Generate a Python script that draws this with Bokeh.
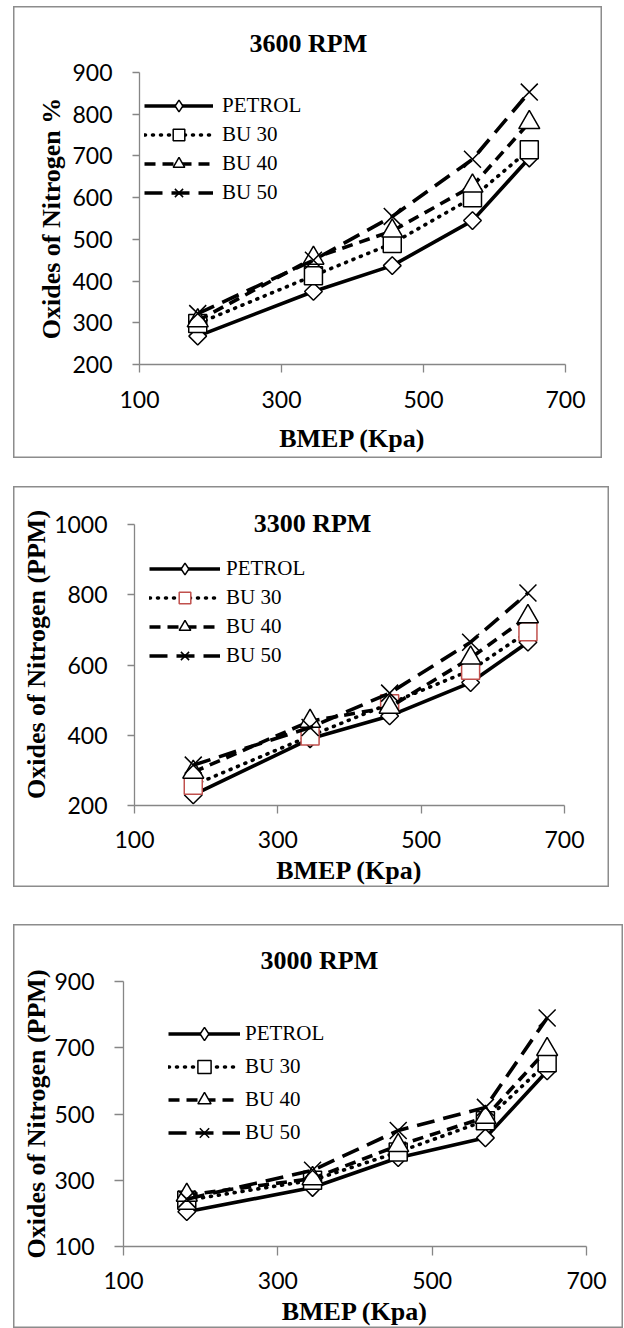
import math
from bokeh.plotting import figure
from bokeh.models import Range1d, FixedTicker, Legend, LegendItem, Title, Spacer, Label
from bokeh.layouts import column, row
from bokeh.embed import file_html
from bokeh.resources import INLINE

# ---------------- data ----------------
series_names = ["PETROL", "BU 30", "BU 40", "BU 50"]
bmep = [182, 345, 456, 569, 649]
x_ticks = [100, 300, 500, 700]

nox_3600_petrol = [268, 375, 437, 545, 695]
nox_3600_bu30 = [298, 413, 490, 600, 715]
nox_3600_bu40 = [305, 455, 520, 628, 780]
nox_3600_bu50 = [322, 450, 555, 692, 853]
y_ticks_3600 = [200, 300, 400, 500, 600, 700, 800, 900]

nox_3300_petrol = [230, 390, 455, 550, 665]
nox_3300_bu30 = [258, 398, 490, 585, 695]
nox_3300_bu40 = [295, 440, 480, 620, 738]
nox_3300_bu50 = [315, 422, 520, 665, 805]
y_ticks_3300 = [200, 400, 600, 800, 1000]

nox_3000_petrol = [205, 278, 368, 428, 630]
nox_3000_bu30 = [240, 300, 385, 480, 655]
nox_3000_bu40 = [255, 305, 405, 490, 695]
nox_3000_bu50 = [243, 330, 450, 520, 790]
y_ticks_3000 = [100, 300, 500, 700, 900]

titles = ["3600 RPM", "3300 RPM", "3000 RPM"]
y_labels = ["Oxides of Nitrogen %", "Oxides of Nitrogen (PPM)", "Oxides of Nitrogen (PPM)"]
x_label = "BMEP (Kpa)"

# ---------------- styles ----------------
SERIF = "Liberation Serif"
SANS = "Lato"
GRAY = "#868686"
line_styles = [
    dict(line_dash="solid", line_width=3.6, line_cap="butt"),
    dict(line_dash="1 7", line_width=3.6, line_cap="round"),
    dict(line_dash="11 7", line_width=3.6, line_cap="butt"),
    dict(line_dash="18 9", line_width=3.6, line_cap="butt"),
]
marker_styles = [
    dict(marker="square", angle=math.pi / 4, size=12.5),
    dict(marker="square", angle=0.0, size=18),
    dict(marker="triangle", angle=0.0, size=21),
    dict(marker="x", angle=0.0, size=24),
]


def make_chart(title, ylabel, series, yr, yticks, geo, marker_colors):
    y_end = geo.get("ytop", yr[1])
    p = figure(
        width=geo["w"], height=geo["h"],
        x_range=Range1d(100, 700), y_range=Range1d(yr[0], y_end),
        output_backend="svg", toolbar_location=None,
        min_border_left=geo["l"], min_border_right=geo["r"],
        min_border_top=geo["t"], min_border_bottom=geo["b"],
    )
    p.outline_line_color = None
    p.grid.visible = False
    p.background_fill_color = None
    p.border_fill_color = None

    for ax, ticks in ((p.xaxis[0], x_ticks), (p.yaxis[0], yticks)):
        ax.ticker = FixedTicker(ticks=ticks)
        ax.minor_tick_line_color = None
        ax.axis_line_color = GRAY
        ax.axis_line_width = 1.3
        ax.major_tick_line_color = GRAY
        ax.major_tick_line_width = 1.3
        ax.major_tick_in = 0
        ax.major_label_text_font = SANS
        ax.major_label_text_font_size = "23px"
        ax.major_label_text_color = "black"
        ax.axis_label_text_font = SERIF
        ax.axis_label_text_font_style = "bold"
        ax.axis_label_text_font_size = "26px"
        ax.axis_label_text_color = "black"
    p.yaxis.bounds = (yr[0], yr[1])
    p.xaxis.major_tick_out = geo["xt"]
    p.yaxis.major_tick_out = geo["yt"]
    p.xaxis.major_label_standoff = geo["xls"]
    p.yaxis.major_label_standoff = geo["yls"]
    p.xaxis.axis_label_standoff = geo["xas"]
    p.yaxis.axis_label_standoff = geo["yas"]
    p.xaxis.axis_label = x_label
    p.yaxis.axis_label = ylabel

    items = []
    for i, (name, ys) in enumerate(zip(series_names, series)):
        lr = p.line(bmep, ys, line_color="black", **line_styles[i])
        ms = marker_styles[i]
        sr = p.scatter(bmep, ys, marker=ms["marker"], angle=ms["angle"], size=ms["size"],
                       fill_color="white", line_color=marker_colors[i], line_width=1.5)
        rends = [lr, sr]
        if i == 0:
            # legend-only diamond glyph (its single point is NaN, so nothing is drawn)
            dr = p.scatter(x=[float("nan")], y=[float("nan")], marker="diamond", size=16,
                           fill_color="white", line_color=marker_colors[i], line_width=1.5)
            rends = [lr, dr]
        items.append(LegendItem(label=name, renderers=rends))

    leg = Legend(items=items, location=(geo["lx"], geo["ly"]),
                 glyph_width=geo["gw"], glyph_height=geo["gh"], spacing=0,
                 padding=0, margin=0, label_standoff=geo["ls"],
                 border_line_color=None, background_fill_alpha=0,
                 label_text_font=SERIF, label_text_font_size="21px",
                 label_text_color="black", label_height=geo["gh"])
    p.add_layout(leg)

    if geo.get("inside_title"):
        p.add_layout(Label(x=geo["tx"], y=geo["ty"], x_units="screen", y_units="screen",
                           text=title, text_align="center", text_baseline="middle",
                           text_font=SERIF, text_font_style="bold", text_font_size="26px",
                           text_color="black"))
    else:
        p.add_layout(Title(text=title, align="left", offset=geo["toff"], standoff=geo["tst"],
                           text_font=SERIF, text_font_style="bold", text_font_size="26px",
                           text_color="black"), "above")
    p.styles = {"box-shadow": "inset 0 0 0 1.5px #8c8c8c"}
    return p


geo1 = dict(w=589, h=452, l=126, r=37, t=66, b=94, xt=8, yt=7, xls=18, yls=20, xas=13, yas=3,
            lx=5, ly=157, gw=69, gh=29, ls=9, toff=110, tst=29)
geo2 = dict(w=596, h=401, l=121, r=45, t=17, b=82, xt=8, yt=7, xls=17, yls=20, xas=5, yas=0,
            lx=15, ly=135, gw=71, gh=29, ls=6, ytop=1060, inside_title=True, tx=178, ty=282)
geo3 = dict(w=610, h=404, l=110, r=37, t=57, b=82, xt=9, yt=9, xls=16, yls=20, xas=5, yas=0,
            lx=45, ly=97, gw=72, gh=33, ls=5, toff=137, tst=14)

black4 = ["black"] * 4
p1 = make_chart(titles[0], y_labels[0],
                [nox_3600_petrol, nox_3600_bu30, nox_3600_bu40, nox_3600_bu50],
                (200, 900), y_ticks_3600, geo1, black4)
p2 = make_chart(titles[1], y_labels[1],
                [nox_3300_petrol, nox_3300_bu30, nox_3300_bu40, nox_3300_bu50],
                (200, 1000), y_ticks_3300, geo2, ["black", "#c0504d", "black", "black"])
p3 = make_chart(titles[2], y_labels[2],
                [nox_3000_petrol, nox_3000_bu30, nox_3000_bu40, nox_3000_bu50],
                (100, 900), y_ticks_3000, geo3, black4)

layout = column(
    Spacer(height=6),
    row(Spacer(width=13), p1),
    Spacer(height=28),
    row(Spacer(width=13), p2),
    Spacer(height=37),
    row(Spacer(width=13), p3),
)
open("out.html", "w").write(file_html(layout, INLINE))
